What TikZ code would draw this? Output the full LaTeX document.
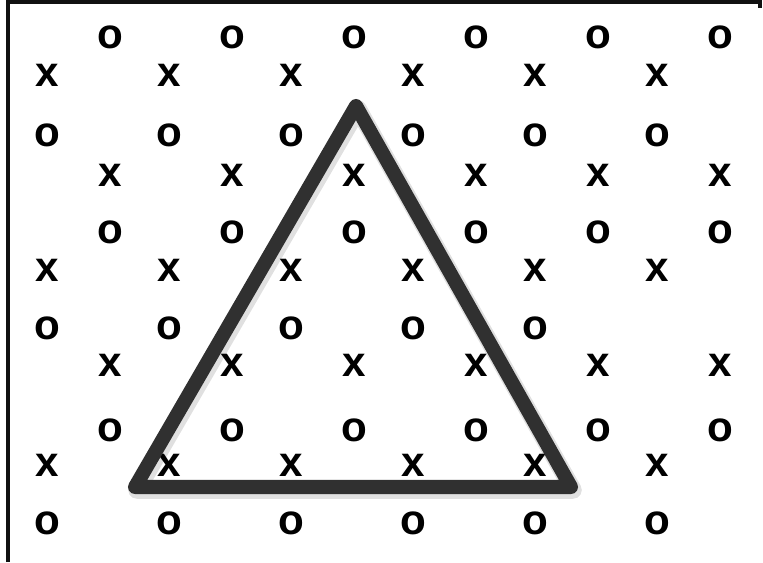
\documentclass[tikz,border=0pt]{standalone}
\usepackage{fontspec}
\setmainfont{Liberation Sans}
\usepackage{tikz}
\usetikzlibrary{positioning,calc}
\usepackage{xcolor}
\definecolor{inkgray}{HTML}{303030}
\definecolor{framegray}{HTML}{111111}

\begin{document}
\begin{tikzpicture}[
    glyph/.style={
      font=\fontsize{12}{14}\selectfont\bfseries, text=black,
      inner sep=0pt,
    },
    tri/.style={draw=inkgray, line width=4pt, line join=round, line cap=round},
    frameline/.style={draw=framegray, line width=1.1pt},
  ]

  % Canvas: 7.63cm x 5.62cm (1px = 0.01cm)
  \useasboundingbox (0,0) rectangle (7.63,5.62);
  \fill[white] (0,0) rectangle (7.63,5.62);

  % =================== Frame (left + top) ===================
  \coordinate (fbl) at (0.08,0);
  \coordinate (ftl) at (0.08,5.60);
  \coordinate (ftr) at (7.60,5.60);
  \coordinate (ftk) at (7.60,5.54);
  \draw[frameline] (fbl) -- (ftl) -- (ftr) -- (ftk);

  % =================== Grid of o / x ===================
  % row y / symbol / column shift (0 = even cols, 1 = odd cols) / number of cols
  \foreach \rowy/\sym/\shift/\ncol [count=\r] in {
      5.25/o/1/6, 4.87/x/0/6, 4.27/o/0/6, 3.87/x/1/6,
      3.30/o/1/6, 2.92/x/0/6, 2.34/o/0/5, 1.97/x/1/6,
      1.32/o/1/6, 0.97/x/0/6, 0.39/o/0/6}
    \foreach \c in {1,...,\ncol}
      \node[glyph] (g-\r-\c) at ({0.47+0.63*\shift+1.22*(\c-1)},\rowy) {\sym};

  % =================== Triangle ===================
  \coordinate (apex) at (3.56,4.56);
  \coordinate (left) at (1.35,0.75);
  \coordinate (right) at (5.71,0.75);
  % soft shadow
  \draw[tri, draw=black, opacity=0.12, line width=5pt]
    ([shift={(0.02,-0.03)}]apex) -- ([shift={(0.02,-0.03)}]right)
    -- ([shift={(0.02,-0.03)}]left) -- cycle;
  \draw[tri] (apex) -- (right) -- (left) -- cycle;

\end{tikzpicture}
\end{document}
